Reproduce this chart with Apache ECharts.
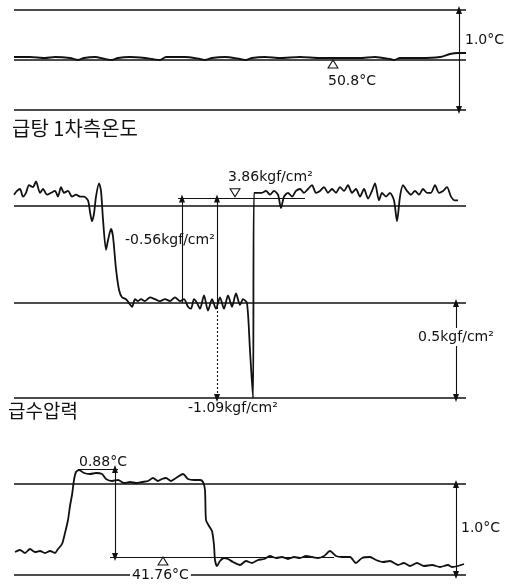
<!DOCTYPE html>
<html>
<head>
<meta charset="utf-8">
<script src="https://cdn.jsdelivr.net/npm/echarts@6/dist/echarts.min.js"></script>
<style>html,body{margin:0;padding:0;background:#fff}#c{width:511px;height:585px}</style>
</head>
<body>
<div id="c"></div>
<script>
// ---- data (time in s, values in physical units) ----
const time1 = [0,8,15.5,20.5,28,32,35,40.5,45.5,49,52,58,65.5,69,73,76,85.5,93,95.5,99,105.5,113,116,119,125.5,133,143,153,163,173,180.5,188,190,193,203,213,218,222,226];
const temp1 = [50.83,50.83,50.82,50.83,50.82,50.80,50.82,50.83,50.81,50.80,50.82,50.83,50.82,50.81,50.80,50.83,50.83,50.81,50.80,50.82,50.83,50.81,50.80,50.82,50.83,50.82,50.83,50.82,50.82,50.82,50.83,50.81,50.80,50.82,50.82,50.83,50.86,50.87,50.87];

const time2 = [0,1.5,3,4.5,6,7.5,9.5,11,13,14.5,16.5,18.5,20.5,22,23.5,25,27,29,31,33,35,37,38,39,40,41,42.5,43.5,44.5,46,47,48.5,49.5,51,52.5,54,56,57.5,59,60.5,62,63.5,65.5,68,70.5,73,75.5,78,80.5,83,85,87,88.5,90,91.5,93,95,97,99,101,103,105,107,109,111,113,114.5,116.5,118,119.5,120,122,124,126,128,130,132,133.5,135,137,139,141,143,145,147,149,151,153,155,157,159,161,163,165,167,169,171,173,175,177,179,180.5,182.5,184,186,188,190,191.5,193,194.5,196.5,198.5,200.5,202.5,204.5,206.5,208.5,210.5,212.5,214.5,216.5,218.5,220.5,222];
const pressure2 = [3.84,3.86,3.87,3.83,3.85,3.89,3.88,3.91,3.85,3.87,3.84,3.85,3.86,3.83,3.88,3.85,3.86,3.83,3.84,3.83,3.83,3.81,3.75,3.70,3.74,3.83,3.90,3.86,3.71,3.55,3.60,3.66,3.62,3.45,3.34,3.30,3.29,3.27,3.25,3.29,3.28,3.29,3.28,3.30,3.29,3.28,3.29,3.28,3.30,3.28,3.29,3.25,3.24,3.29,3.27,3.24,3.31,3.23,3.29,3.24,3.30,3.24,3.31,3.25,3.32,3.26,3.29,3.27,3.02,2.77,3.85,3.85,3.85,3.86,3.84,3.86,3.84,3.77,3.83,3.85,3.83,3.86,3.87,3.85,3.87,3.89,3.85,3.86,3.88,3.85,3.87,3.85,3.88,3.86,3.89,3.85,3.87,3.83,3.87,3.82,3.86,3.90,3.81,3.85,3.83,3.85,3.81,3.70,3.83,3.89,3.86,3.84,3.86,3.84,3.87,3.85,3.85,3.89,3.85,3.86,3.88,3.83,3.81,3.81];

const time3 = [0.5,3,5.5,8,10.5,13,15.5,18,20.5,22,24,25.5,27,28,29,30,31,32.5,35,38,41,44,46,49,52,55,58,61,64,67,69.5,72,74,76,78.5,81,84.5,87,90,93,94.5,95.5,96,97.5,99,100,100.5,101.5,103,105,107,109.5,113,116,119,122,125,128,131,134,137,140,143,146,149,152,155,158,161,164,168,171,174,178,181,184.5,188,192,195,198,201.5,205,209,213,217,219,222,225];
const temp3 = [41.81,41.83,41.80,41.84,41.81,41.82,41.80,41.82,41.80,41.84,41.89,42.00,42.13,42.27,42.38,42.53,42.61,42.63,42.60,42.59,42.60,42.59,42.54,42.52,42.53,42.50,42.51,42.50,42.51,42.52,42.55,42.52,42.54,42.55,42.52,42.55,42.59,42.54,42.53,42.53,42.51,42.43,42.13,42.07,42.02,41.88,41.73,41.67,41.72,41.75,41.74,41.71,41.68,41.72,41.70,41.73,41.74,41.77,41.75,41.76,41.74,41.76,41.75,41.77,41.76,41.75,41.77,41.82,41.77,41.76,41.76,41.70,41.75,41.76,41.73,41.71,41.72,41.68,41.70,41.67,41.70,41.67,41.68,41.66,41.68,41.66,41.67,41.69];

const levels1 = [51.3, 50.8, 50.3];
const levels2 = [3.78, 3.27, 2.77];
const levels3 = [42.49, 41.58];
const ref2 = 3.82;      // marked 3.86 kgf/cm2
const ref3 = 41.76;     // marked 41.76 C
const plateau3 = 42.64; // 41.76 + 0.88
const labelTexts = ['1.0°C','50.8°C','3.86kgf/cm²','-0.56kgf/cm²','0.5kgf/cm²','-1.09kgf/cm²','0.88°C','41.76°C','1.0°C'];
const titles = ['급탕 1차측온도','급수압력'];

// ---- helpers ----
const INK = '#111';
const pairs = (xs, ys) => xs.map((x, i) => [x, ys[i]]);
const tri = {symbol: 'triangle', symbolSize: [6, 8]};
const seg = (a, b, sa, sb, style) => [Object.assign({coord: a}, sa ? tri : {symbol: 'none'}, style ? {lineStyle: style} : {}),
                                       Object.assign({coord: b}, sb ? tri : {symbol: 'none'})];
const hollowTri = (c, down) => ({coord: c, symbol: 'triangle', symbolSize: [10, 8], symbolRotate: down ? 180 : 0,
  itemStyle: {color: '#fff', borderColor: INK, borderWidth: 1}});

function trace(idx, data, levelLines, segs, tris) {
  return {
    type: 'line', xAxisIndex: idx, yAxisIndex: idx, data: data, showSymbol: false, smooth: 0.25,
    lineStyle: {color: INK, width: 1.8}, silent: true, clip: false,
    markLine: {
      silent: true, symbol: 'none', label: {show: false}, animation: false,
      lineStyle: {color: INK, width: 1.7, type: 'solid'},
      data: levelLines.map(v => ({yAxis: v})).concat(segs.map(s => {
        s[0].lineStyle = Object.assign({color: INK, width: 1.1, type: 'solid'}, s[0].lineStyle || {});
        return s;
      }))
    },
    markPoint: {silent: true, label: {show: false}, data: tris, animation: false}
  };
}

const grids = [
  {left: 14, width: 452, top: 10, height: 100},
  {left: 14, width: 452, top: 173.8, height: 224.2},
  {left: 14, width: 452, top: 463, height: 115}
];
const yRanges = [[50.3, 51.3], [2.77, 3.95], [41.55, 42.70]];

function txt(t, x, y, opt) {
  return {type: 'text', x: x, y: y, silent: true, z: 100,
    style: Object.assign({text: t, font: '14px "DejaVu Sans"', fill: INK, verticalAlign: 'middle'}, opt || {})};
}

const option = {
  animation: false,
  backgroundColor: '#fff',
  grid: grids,
  xAxis: grids.map((g, i) => ({type: 'value', gridIndex: i, min: 0, max: 226, show: false})),
  yAxis: grids.map((g, i) => ({type: 'value', gridIndex: i, min: yRanges[i][0], max: yRanges[i][1], show: false})),
  series: [
    trace(0, pairs(time1, temp1), levels1,
      [seg([222.5, levels1[0]], [222.5, levels1[2]], true, true)],
      [hollowTri([159.5, 50.76], false)]),
    trace(1, pairs(time2, pressure2), levels2,
      [seg([82, ref2], [145.5, ref2]),
       seg([84, levels2[1]], [84, ref2], false, true),
       seg([101.5, levels2[1]], [101.5, ref2], false, true),
       seg([101.5, levels2[1]], [101.5, levels2[2]], false, true, {type: [2, 2]}),
       seg([221, levels2[1]], [221, levels2[2]], true, true)],
      [hollowTri([110.5, 3.85], true)]),
    trace(2, pairs(time3, temp3), levels3,
      [seg([32, plateau3], [52, plateau3]),
       seg([50.5, plateau3], [50.5, ref3], true, true),
       seg([48, ref3], [160, ref3]),
       seg([221, levels3[0]], [221, levels3[1]], true, true)],
      [hollowTri([74.5, 41.72], false)])
  ],
  graphic: [
    txt(titles[0], 12, 128, {font: '20px "Noto Sans CJK KR"'}),
    txt(titles[1], 8, 411, {font: '19px "Noto Sans CJK KR"'}),
    txt(labelTexts[0], 465, 40),
    txt(labelTexts[1], 328, 81),
    txt(labelTexts[2], 228, 177),
    txt(labelTexts[3], 125, 240),
    txt(labelTexts[4], 417, 337, {backgroundColor: '#fff', padding: [2, 1]}),
    txt(labelTexts[5], 188, 408),
    txt(labelTexts[6], 79, 462),
    txt(labelTexts[7], 130, 575, {backgroundColor: '#fff', padding: [0, 2]}),
    txt(labelTexts[8], 461, 528)
  ]
};

const chart = echarts.init(document.getElementById('c'), null, {renderer: 'canvas'});
chart.setOption(option);
</script>
</body>
</html>
